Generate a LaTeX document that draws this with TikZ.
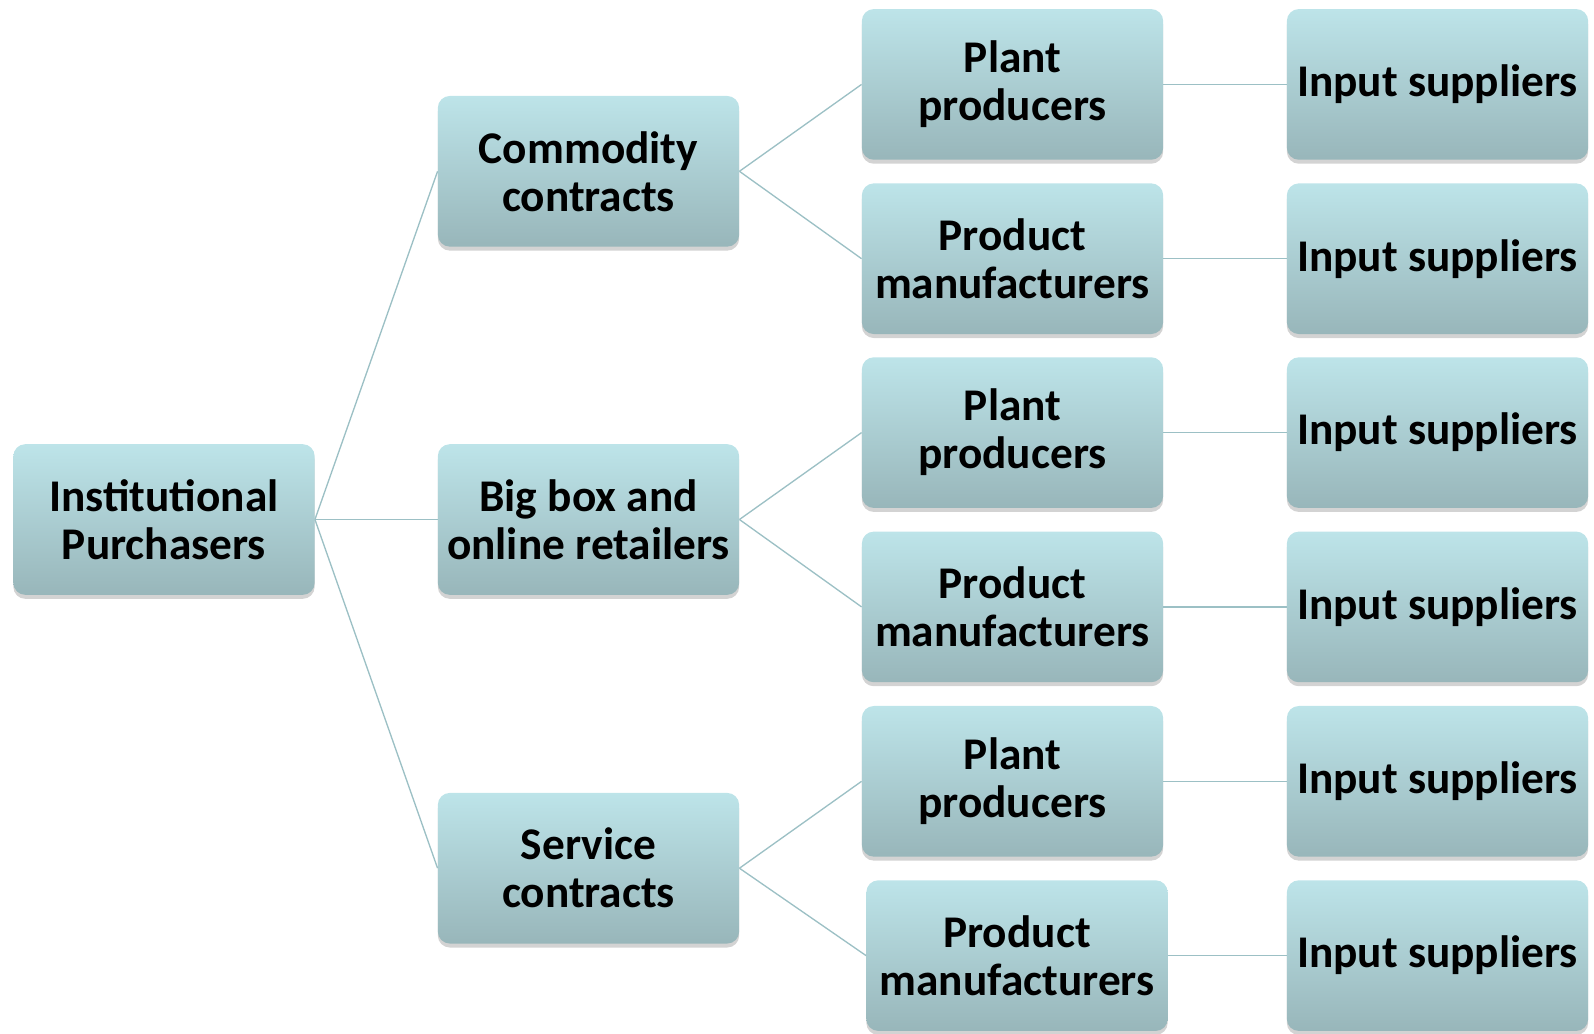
\documentclass[tikz,border=0pt]{standalone}
\usepackage{fontspec}
\setmainfont{Carlito}
\usepackage{tikz}
\usetikzlibrary{shadows}
\definecolor{boxtop}{HTML}{BDE4E9}
\definecolor{boxbottom}{HTML}{98B6BA}
\definecolor{linkline}{HTML}{9CC0C5}
\tikzset{
  stage/.style={rectangle, rounded corners=9pt, top color=boxtop, bottom color=boxbottom,
    draw=none, minimum width=226pt, minimum height=113pt, align=center,
    font=\fontsize{34}{36}\selectfont\bfseries,
    drop shadow={opacity=0.35, shadow xshift=0pt, shadow yshift=-3pt}},
  link/.style={draw=linkline, line width=1pt}
}
\newcommand{\stagenode}[4]{\node[stage] (#1) at ( #2 , #3 ) {#4};}

\begin{document}
\begin{tikzpicture}[x=0.75pt, y=-0.75pt]
    \useasboundingbox (0,0) rectangle (1594,1033);

    %nodes
    \stagenode{inst}{164}{519.5}{Institutional\\Purchasers}

    \stagenode{commod}{588.5}{171.3}{Commodity\\contracts}
    \stagenode{bigbox}{588.5}{519.5}{Big box and\\online retailers}
    \stagenode{service}{588.5}{868.2}{Service\\contracts}

    \stagenode{plantA}{1012.5}{84.4}{Plant\\producers}
    \stagenode{prodA}{1012.5}{258.7}{Product\\manufacturers}
    \stagenode{plantB}{1012.5}{432.6}{Plant\\producers}
    \stagenode{prodB}{1012.5}{606.9}{Product\\manufacturers}
    \stagenode{plantC}{1012.5}{781.3}{Plant\\producers}
    \stagenode{prodC}{1017}{955.6}{Product\\manufacturers}

    \stagenode{inA}{1437.5}{84.4}{Input suppliers}
    \stagenode{inB}{1437.5}{258.7}{Input suppliers}
    \stagenode{inC}{1437.5}{432.6}{Input suppliers}
    \stagenode{inD}{1437.5}{606.9}{Input suppliers}
    \stagenode{inE}{1437.5}{781.3}{Input suppliers}
    \stagenode{inF}{1437.5}{955.6}{Input suppliers}

    %edges
    \draw[link] (inst.east) -- (commod.west);
    \draw[link] (inst.east) -- (bigbox.west);
    \draw[link] (inst.east) -- (service.west);

    \draw[link] (commod.east) -- (plantA.west);
    \draw[link] (commod.east) -- (prodA.west);
    \draw[link] (bigbox.east) -- (plantB.west);
    \draw[link] (bigbox.east) -- (prodB.west);
    \draw[link] (service.east) -- (plantC.west);
    \draw[link] (service.east) -- (prodC.west);

    \draw[link] (plantA.east) -- (inA.west);
    \draw[link] (prodA.east) -- (inB.west);
    \draw[link] (plantB.east) -- (inC.west);
    \draw[link] (prodB.east) -- (inD.west);
    \draw[link] (plantC.east) -- (inE.west);
    \draw[link] (prodC.east) -- (inF.west);
\end{tikzpicture}
\end{document}
